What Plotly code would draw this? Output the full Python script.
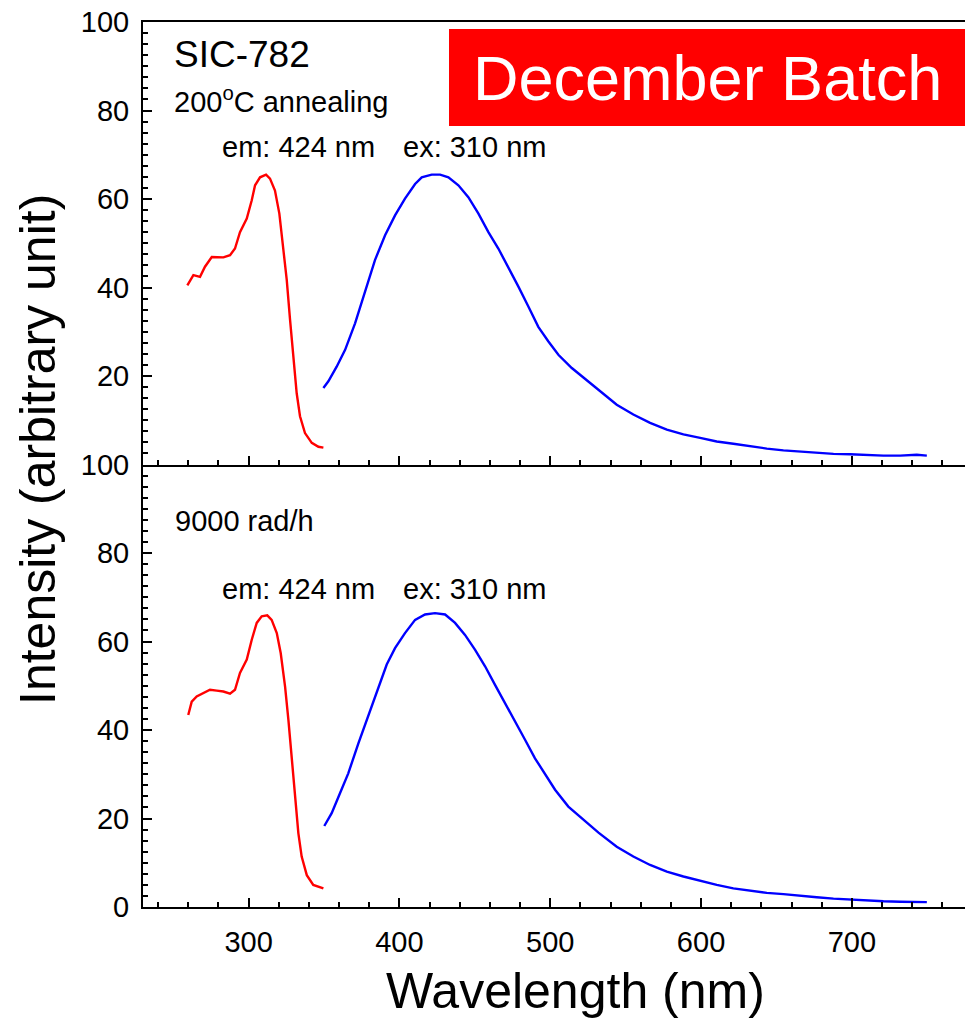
import plotly.graph_objects as go

# ---------------- data ----------------
top_em_wl = [259.4, 263.4, 267.8, 271.1, 275.6, 278.9, 283.3, 287.7, 291.0, 294.3, 298.8, 302.1, 304.3,
             307.6, 311.6, 314.2, 317.5, 320.4, 323.0, 325.3, 327.5, 329.7, 331.9, 334.1, 337.4, 341.9,
             346.3, 349.6]
top_em_int = [40.5, 42.8, 42.4, 44.7, 46.9, 46.8, 46.8, 47.3, 48.8, 52.5, 55.6, 59.7, 63.1,
              64.9, 65.5, 64.6, 61.9, 56.7, 49.2, 41.7, 32.7, 23.6, 16.1, 10.9, 7.1, 4.9,
              4.0, 3.8]

top_ex_wl = [349.6, 352.9, 358.4, 364.0, 370.6, 377.2, 383.8, 390.5, 397.1, 403.7, 410.4, 414.8, 421.4,
             427.0, 432.5, 439.1, 445.7, 452.4, 459.0, 465.6, 472.2, 478.9, 485.5, 492.1, 498.8, 505.4,
             514.3, 525.3, 533.0, 544.1, 555.1, 566.2, 577.3, 588.3, 599.4, 610.4, 621.4, 632.5, 643.6,
             654.6, 665.7, 676.7, 687.8, 698.8, 709.9, 720.9, 732.0, 743.0, 749.7]
top_ex_int = [17.3, 18.8, 22.1, 25.9, 31.9, 39.0, 46.2, 51.8, 56.3, 60.1, 63.4, 64.9, 65.5,
              65.5, 64.9, 63.1, 60.4, 56.7, 52.5, 48.8, 44.7, 40.2, 35.7, 31.1, 27.8, 24.8,
              21.8, 18.8, 16.5, 13.5, 11.3, 9.4, 7.9, 6.8, 6.0, 5.2, 4.7, 4.1, 3.6,
              3.2, 2.9, 2.6, 2.4, 2.3, 2.1, 2.0, 2.0, 2.2, 2.0]

bot_em_wl = [260.0, 262.3, 265.6, 270.0, 274.4, 278.9, 283.3, 287.7, 291.0, 294.3, 298.8, 302.1, 305.4,
             308.7, 312.4, 315.3, 318.7, 321.3, 324.2, 326.4, 328.6, 330.8, 333.0, 335.2, 338.6, 342.9,
             349.6]
bot_em_int = [43.4, 46.4, 47.6, 48.3, 49.1, 48.9, 48.7, 48.2, 49.1, 52.9, 55.9, 60.4, 64.2,
              65.7, 65.9, 64.9, 61.9, 57.4, 49.8, 42.3, 33.3, 24.2, 16.7, 11.4, 7.2, 5.0,
              4.2]

bot_ex_wl = [350.2, 355.1, 360.6, 366.1, 372.8, 379.4, 386.0, 391.6, 397.1, 403.7, 410.4, 417.0, 423.6,
             430.3, 436.9, 443.5, 450.2, 456.8, 463.4, 470.1, 476.7, 483.3, 489.9, 496.6, 503.2, 512.0,
             520.9, 532.0, 544.1, 555.1, 566.2, 577.3, 588.3, 599.4, 610.4, 621.4, 632.5, 643.6, 654.6,
             665.7, 676.7, 687.8, 698.8, 709.9, 720.9, 732.0, 743.0, 749.7]
bot_ex_int = [18.3, 21.2, 25.7, 30.2, 37.0, 43.4, 49.8, 54.8, 58.5, 61.9, 64.9, 66.1, 66.4,
              66.1, 64.2, 61.5, 58.1, 54.4, 50.2, 46.1, 41.9, 37.8, 33.6, 29.9, 26.5, 22.7,
              20.1, 16.8, 13.6, 11.4, 9.5, 8.0, 6.9, 5.9, 5.0, 4.2, 3.7, 3.2, 2.9,
              2.5, 2.2, 1.9, 1.7, 1.4, 1.3, 1.2, 1.2, 1.1]

top_tick_vals = [20, 40, 60, 80, 100]
bot_tick_vals = [0, 20, 40, 60, 80, 100]

# ---------------- figure ----------------
W, H = 968, 1020
L, R, T, B = 143, 3, 22, 113
FONT = "Liberation Sans, Arial, Helvetica, sans-serif"
RED = "#ff0000"
BLUE = "#0000ff"


def px(xp):
    return (xp - L) / (W - L - R)


def py(yp):
    return (H - B - yp) / (H - T - B)


fig = go.Figure()
line_kw = dict(width=2.4)
fig.add_trace(go.Scatter(x=top_em_wl, y=top_em_int, mode="lines", line=dict(color=RED, **line_kw),
                         xaxis="x2", yaxis="y2"))
fig.add_trace(go.Scatter(x=top_ex_wl, y=top_ex_int, mode="lines", line=dict(color=BLUE, **line_kw),
                         xaxis="x2", yaxis="y2"))
fig.add_trace(go.Scatter(x=bot_em_wl, y=bot_em_int, mode="lines", line=dict(color=RED, **line_kw),
                         xaxis="x", yaxis="y"))
fig.add_trace(go.Scatter(x=bot_ex_wl, y=bot_ex_int, mode="lines", line=dict(color=BLUE, **line_kw),
                         xaxis="x", yaxis="y"))

xcommon = dict(range=[230, 775], tick0=0, dtick=100, ticks="inside", ticklen=9, tickwidth=2,
               tickcolor="black", showline=True, linewidth=2, linecolor="black", showgrid=False,
               zeroline=False, minor=dict(ticks="inside", ticklen=5, tickwidth=1.5, dtick=20,
                                          tick0=0, tickcolor="black", showgrid=False),
               tickfont=dict(family=FONT, size=29, color="black"), ticklabelstandoff=8)
ycommon = dict(range=[0, 100], tickmode="array", ticks="inside", ticklen=9,
               tickwidth=2, tickcolor="black", showline=True, linewidth=2, linecolor="black",
               showgrid=False, zeroline=False,
               minor=dict(ticks="inside", ticklen=5, tickwidth=1.5, tickmode="linear", tick0=0,
                          dtick=2.5, tickcolor="black", showgrid=False),
               tickfont=dict(family=FONT, size=29, color="black"), ticklabelstandoff=6)

fig.update_layout(
    width=W, height=H,
    margin=dict(l=L, r=R, t=T, b=B, pad=0),
    paper_bgcolor="white", plot_bgcolor="white",
    showlegend=False,
    font=dict(family=FONT, color="black"),
    xaxis=dict(domain=[0, 1], anchor="y", **xcommon),
    xaxis2=dict(domain=[0, 1], anchor="y2", matches="x", showticklabels=False, mirror=True, **xcommon),
    yaxis=dict(domain=[0, 0.5], anchor="x", tickvals=bot_tick_vals, **ycommon),
    yaxis2=dict(domain=[0.5, 1], anchor="x2", tickvals=top_tick_vals, **ycommon),
)

# red label box
fig.add_shape(type="rect", xref="paper", yref="paper", x0=px(449), x1=px(965), y0=py(126), y1=py(29),
              fillcolor=RED, line=dict(width=0), layer="above")


def ann(text, x, y, size, xanchor="left", color="black", angle=0):
    fig.add_annotation(text=text, xref="paper", yref="paper", x=px(x), y=py(y), xanchor=xanchor,
                       yanchor="middle", showarrow=False, textangle=angle,
                       font=dict(family=FONT, size=size, color=color))


ann("December Batch", 707, 78, 63, xanchor="center", color="white")
ann("SIC-782", 172, 55, 37)
ann("200<sup>o</sup>C annealing", 172, 100, 29)
ann("em: 424 nm", 298, 147, 29, xanchor="center")
ann("ex: 310 nm", 474, 147, 29, xanchor="center")
ann("9000 rad/h", 173, 521, 29)
ann("em: 424 nm", 298, 589, 29, xanchor="center")
ann("ex: 310 nm", 474, 589, 29, xanchor="center")
ann("Intensity (arbitrary unit)", 38, 450, 50, xanchor="center", angle=-90)
ann("Wavelength (nm)", 575, 991, 50, xanchor="center")

fig.write_html("out.html", config={"displayModeBar": False},
               post_script="document.body.style.margin='0';document.body.style.overflow='hidden';")
